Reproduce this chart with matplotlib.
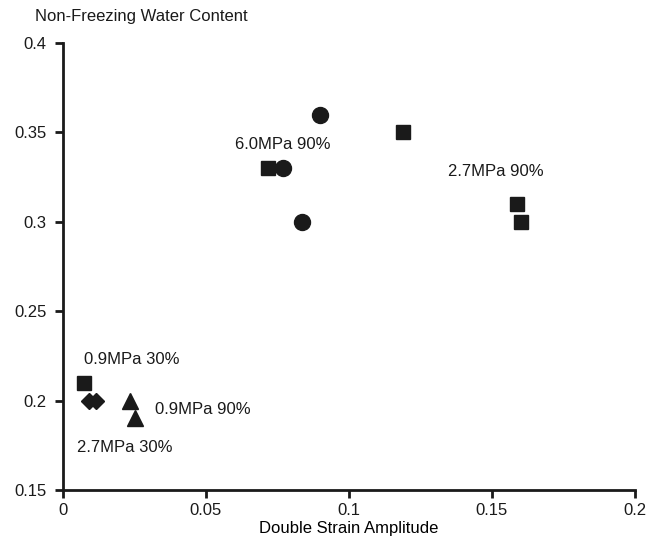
import matplotlib.pyplot as plt

plt.rcParams['font.family'] = ['Liberation Sans', 'DejaVu Sans']

# dane
sq_x = [0.0073, 0.0717, 0.1189, 0.1587, 0.1601]
sq_y = [0.21, 0.33, 0.35, 0.31, 0.30]
ci_x = [0.0899, 0.0769, 0.0836]
ci_y = [0.36, 0.33, 0.30]
di_x = [0.0091, 0.0115]
di_y = [0.20, 0.20]
tr_x = [0.0234, 0.0250]
tr_y = [0.20, 0.19]

labels = ['6.0MPa 90%', '2.7MPa 90%', '0.9MPa 30%', '0.9MPa 90%', '2.7MPa 30%']
label_x = [0.060, 0.1346, 0.0073, 0.0322, 0.0049]
label_y = [0.343, 0.328, 0.223, 0.195, 0.174]

x_ticks = [0, 0.05, 0.1, 0.15, 0.2]
x_labels = ['0', '0.05', '0.1', '0.15', '0.2']
y_ticks = [0.15, 0.2, 0.25, 0.3, 0.35, 0.4]
y_labels = ['0.15', '0.2', '0.25', '0.3', '0.35', '0.4']

fig = plt.figure(figsize=(6.65, 5.47), dpi=100)
ax = fig.add_axes([63 / 665, 57 / 547, 572 / 665, 447 / 547])

ax.plot(sq_x, sq_y, 's', color='#1a1a1a', markersize=9.5, linestyle='none')
ax.plot(ci_x, ci_y, 'o', color='#1a1a1a', markersize=11.5, linestyle='none')
ax.plot(di_x, di_y, 'D', color='#1a1a1a', markersize=8, linestyle='none')
ax.plot(tr_x, tr_y, '^', color='#1a1a1a', markersize=11, linestyle='none')

for t, lx, ly in zip(labels, label_x, label_y):
    ax.text(lx, ly, t, fontsize=12, va='center', ha='left', color='#1a1a1a')

ax.set_xlim(0, 0.2)
ax.set_ylim(0.15, 0.4)
ax.set_xticks(x_ticks)
ax.set_xticklabels(x_labels)
ax.set_yticks(y_ticks)
ax.set_yticklabels(y_labels)
ax.tick_params(labelsize=12, length=6, width=2, direction='out', colors='#1a1a1a')
ax.tick_params(axis='y', pad=6)
ax.spines['top'].set_visible(False)
ax.spines['right'].set_visible(False)
ax.spines['left'].set_linewidth(2)
ax.spines['bottom'].set_linewidth(2)
ax.spines['left'].set_color('#1a1a1a')
ax.spines['bottom'].set_color('#1a1a1a')

ax.set_xlabel('Double Strain Amplitude', fontsize=12, labelpad=2)
fig.text(35 / 665, 1 - 17 / 547, 'Non-Freezing Water Content', fontsize=12,
         va='center', ha='left', color='#1a1a1a')

plt.savefig('out.png', dpi=100)
